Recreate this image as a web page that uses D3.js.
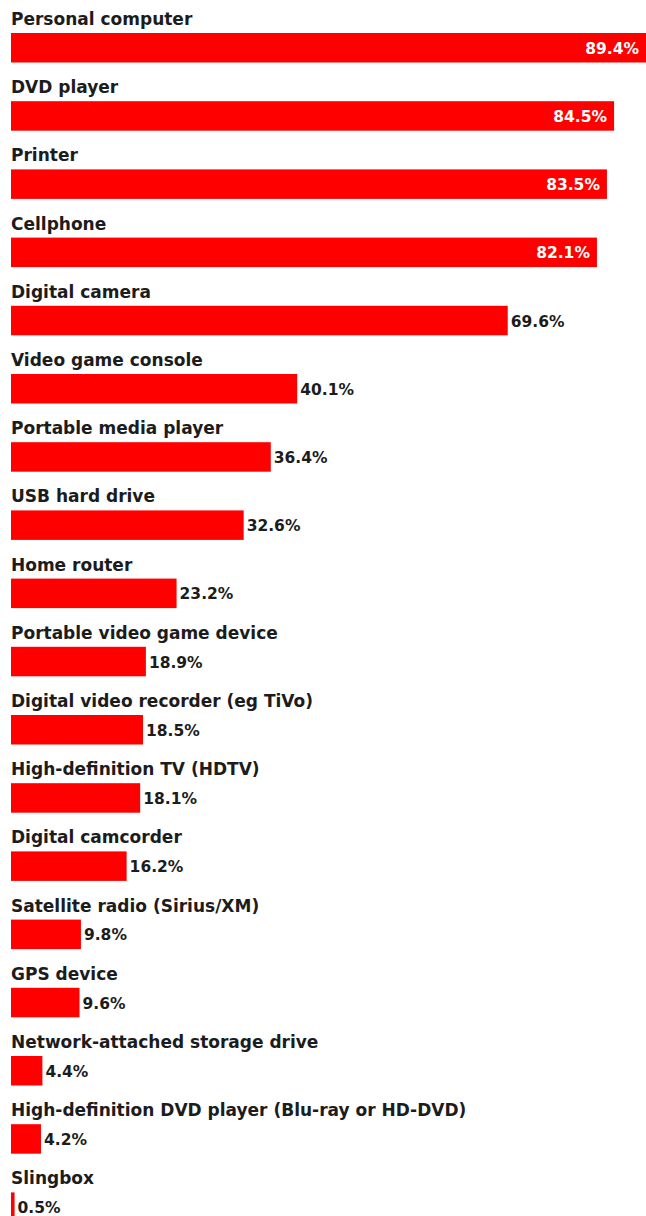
<!DOCTYPE html>
<html>
<head>
<meta charset="utf-8">
<script src="https://cdn.jsdelivr.net/npm/d3@7"></script>
<style>
  html, body { margin: 0; padding: 0; background: #fff; overflow: hidden; }
  svg { display: block; }
  .cat { font-family: "DejaVu Sans", sans-serif; font-weight: bold; font-size: 17px; fill: #1c1c1c; }
  .val { font-family: "DejaVu Sans", sans-serif; font-weight: bold; font-size: 15.5px; }
</style>
</head>
<body>
<div id="chart"></div>
<script>
// --- Data ---
const categories = [
  "Personal computer", "DVD player", "Printer", "Cellphone", "Digital camera",
  "Video game console", "Portable media player", "USB hard drive", "Home router",
  "Portable video game device", "Digital video recorder (eg TiVo)",
  "High-definition TV (HDTV)", "Digital camcorder", "Satellite radio (Sirius/XM)",
  "GPS device", "Network-attached storage drive",
  "High-definition DVD player (Blu-ray or HD-DVD)", "Slingbox"
];
const values = [89.4, 84.5, 83.5, 82.1, 69.6, 40.1, 36.4, 32.6, 23.2, 18.9, 18.5, 18.1, 16.2, 9.8, 9.6, 4.4, 4.2, 0.5];
const valueLabels = values.map(v => v.toFixed(1) + "%");

const width = 646, height = 1216;
const rowStep = 68.2, firstBarTop = 33, barHeight = 29.5;
const insideThreshold = 80;

const svg = d3.select("#chart").append("svg")
    .attr("width", width)
    .attr("height", height);

const x = d3.scaleLinear().domain([0, 100]).range([11, 724.7]);
const y = d3.scaleBand()
    .domain(categories)
    .range([firstBarTop, firstBarTop + rowStep * categories.length])
    .paddingInner(0).paddingOuter(0);

const rows = categories.map((c, i) => ({ cat: c, value: values[i], label: valueLabels[i] }));

const g = svg.selectAll(".row").data(rows).enter().append("g").attr("class", "row");

// bars
g.append("rect")
    .attr("x", x(0))
    .attr("y", d => y(d.cat))
    .attr("width", d => x(d.value) - x(0))
    .attr("height", barHeight)
    .attr("fill", "#ff0000");

// category labels above bars
g.append("text")
    .attr("class", "cat")
    .attr("x", x(0))
    .attr("y", d => y(d.cat) - 8)
    .text(d => d.cat);

// value labels
g.append("text")
    .attr("class", "val")
    .attr("x", d => d.value > insideThreshold ? Math.min(x(d.value), width) - 7 : x(d.value) + 3)
    .attr("y", d => y(d.cat) + barHeight / 2 + 6)
    .attr("text-anchor", d => d.value > insideThreshold ? "end" : "start")
    .attr("fill", d => d.value > insideThreshold ? "#fff" : "#1c1c1c")
    .text(d => d.label);
</script>
</body>
</html>
